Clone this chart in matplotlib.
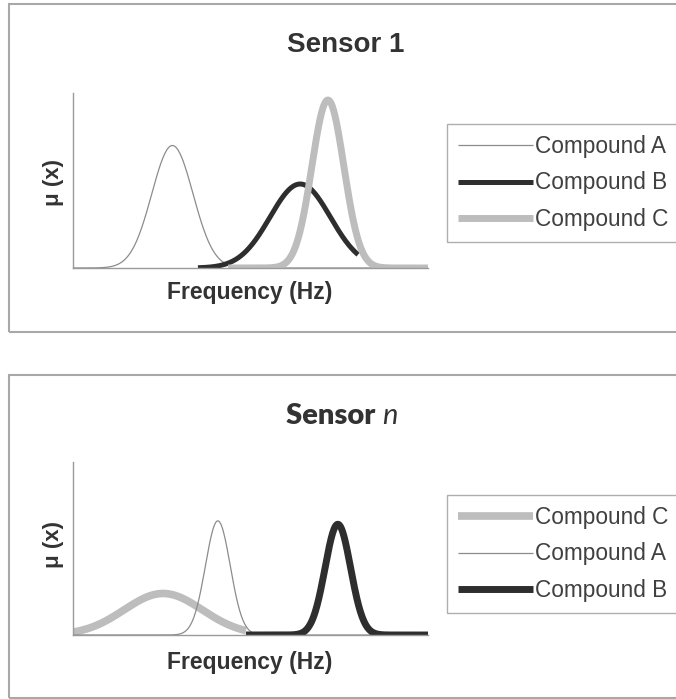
import numpy as np
import matplotlib
matplotlib.use("Agg")
import matplotlib.pyplot as plt
from matplotlib.patches import Rectangle

plt.rcParams['font.family'] = ['Liberation Sans', 'DejaVu Sans']

# membership curves (frequency axis runs 0..100)
# each compound: centre, spread, peak height, start, end
s1_names = ["Compound A", "Compound B", "Compound C"]
s1_centre = [28.0, 64.0, 71.8]
s1_spread = [5.8, 8.5, 4.5]
s1_peak = [0.70, 0.48, 0.96]
s1_start = [0.0, 35.2, 43.7]
s1_end = [100.0, 80.3, 100.0]

sn_names = ["Compound C", "Compound A", "Compound B"]
sn_centre = [25.4, 40.8, 74.6]
sn_spread = [11.0, 3.5, 3.6]
sn_peak = [0.24, 0.66, 0.64]
sn_start = [0.0, 0.0, 48.7]
sn_end = [48.7, 100.0, 100.0]

styles = {
    "Compound A": dict(color="#8c8c8c", lw=0.9),
    "Compound B": dict(color="#2e2e2e", lw=3.6),
    "Compound C": dict(color="#bdbdbd", lw=5.0),
}

W, H = 676, 699
fig = plt.figure(figsize=(W / 100, H / 100), dpi=100)


def fx(px):
    return px / W


def fy(py):
    return 1 - py / H


# panel frames
fig.patches.append(Rectangle((fx(9), fy(332)), fx(700), fy(4) - fy(332),
                             transform=fig.transFigure, fill=False,
                             edgecolor="#a8a8a8", lw=1.5))
fig.patches.append(Rectangle((fx(9), fy(698)), fx(700), fy(375) - fy(698),
                             transform=fig.transFigure, fill=False,
                             edgecolor="#a8a8a8", lw=1.5))


def panel(top_px, base_px, names, centre, spread, peak, start, end, thick):
    ax = fig.add_axes([fx(73), fy(base_px), fx(355), fy(top_px) - fy(base_px)])
    handles = []
    for i, name in enumerate(names):
        x = np.linspace(start[i], end[i], 400)
        y = peak[i] * np.exp(-0.5 * ((x - centre[i]) / spread[i]) ** 2)
        st = dict(styles[name])
        if name in thick:
            st["lw"] = thick[name]
        ln, = ax.plot(x, y, solid_capstyle="butt", **st, label=name)
        handles.append(ln)
    ax.set_xlim(0, 100)
    ax.set_ylim(0, 1)
    for s in ["top", "right"]:
        ax.spines[s].set_visible(False)
    for s in ["left", "bottom"]:
        ax.spines[s].set_color("#9a9a9a")
        ax.spines[s].set_linewidth(1.0)
    ax.set_xticks([])
    ax.set_yticks([])
    ax.patch.set_alpha(0)
    return ax, handles


ax1, h1 = panel(93, 268, s1_names, s1_centre, s1_spread, s1_peak,
                s1_start, s1_end, {})
ax2, h2 = panel(462, 635, sn_names, sn_centre, sn_spread, sn_peak,
                sn_start, sn_end, {"Compound B": 5.0, "Compound C": 5.5})

legend_kw = dict(loc="upper left", frameon=True, fancybox=False,
                 edgecolor="#9a9a9a", fontsize=16.3, handlelength=3.3,
                 handletextpad=0.1, labelspacing=0.58, borderpad=0.5,
                 borderaxespad=0)
for handles, top in [(h1, 124), (h2, 495)]:
    leg = fig.legend(handles=handles, bbox_to_anchor=(fx(447), fy(top)),
                     **legend_kw)
    leg.get_frame().set_linewidth(1.0)
    for t in leg.get_texts():
        t.set_color("#404040")

# titles
fig.text(fx(346), fy(45), "Sensor 1", ha="center", va="center",
         fontsize=20, fontweight="bold", color="#333333")
t1 = fig.text(fx(334), fy(424), "Sensor ", ha="center", va="baseline",
              family="Lato", fontsize=21, fontweight="heavy", color="#333333")
t_n = fig.text(0, fy(424), "n", ha="left", va="baseline", family="Lato",
               fontsize=21, style="italic", color="#333333")

# axis labels
for xl_y, yl_y in [(293, 182), (663, 545)]:
    fig.text(fx(250), fy(xl_y), "Frequency (Hz)", ha="center", va="center",
             fontsize=16.5, fontweight="bold", color="#333333")
    fig.text(fx(53), fy(yl_y), "\u03bc (x)", ha="center", va="center",
             rotation=90, fontsize=16, fontweight="bold", color="#333333")

# place the italic n right after "Sensor "
fig.canvas.draw()
bb = t1.get_window_extent()
t_n.set_x(bb.x1 / fig.bbox.width)

fig.savefig("out.png", dpi=100)
